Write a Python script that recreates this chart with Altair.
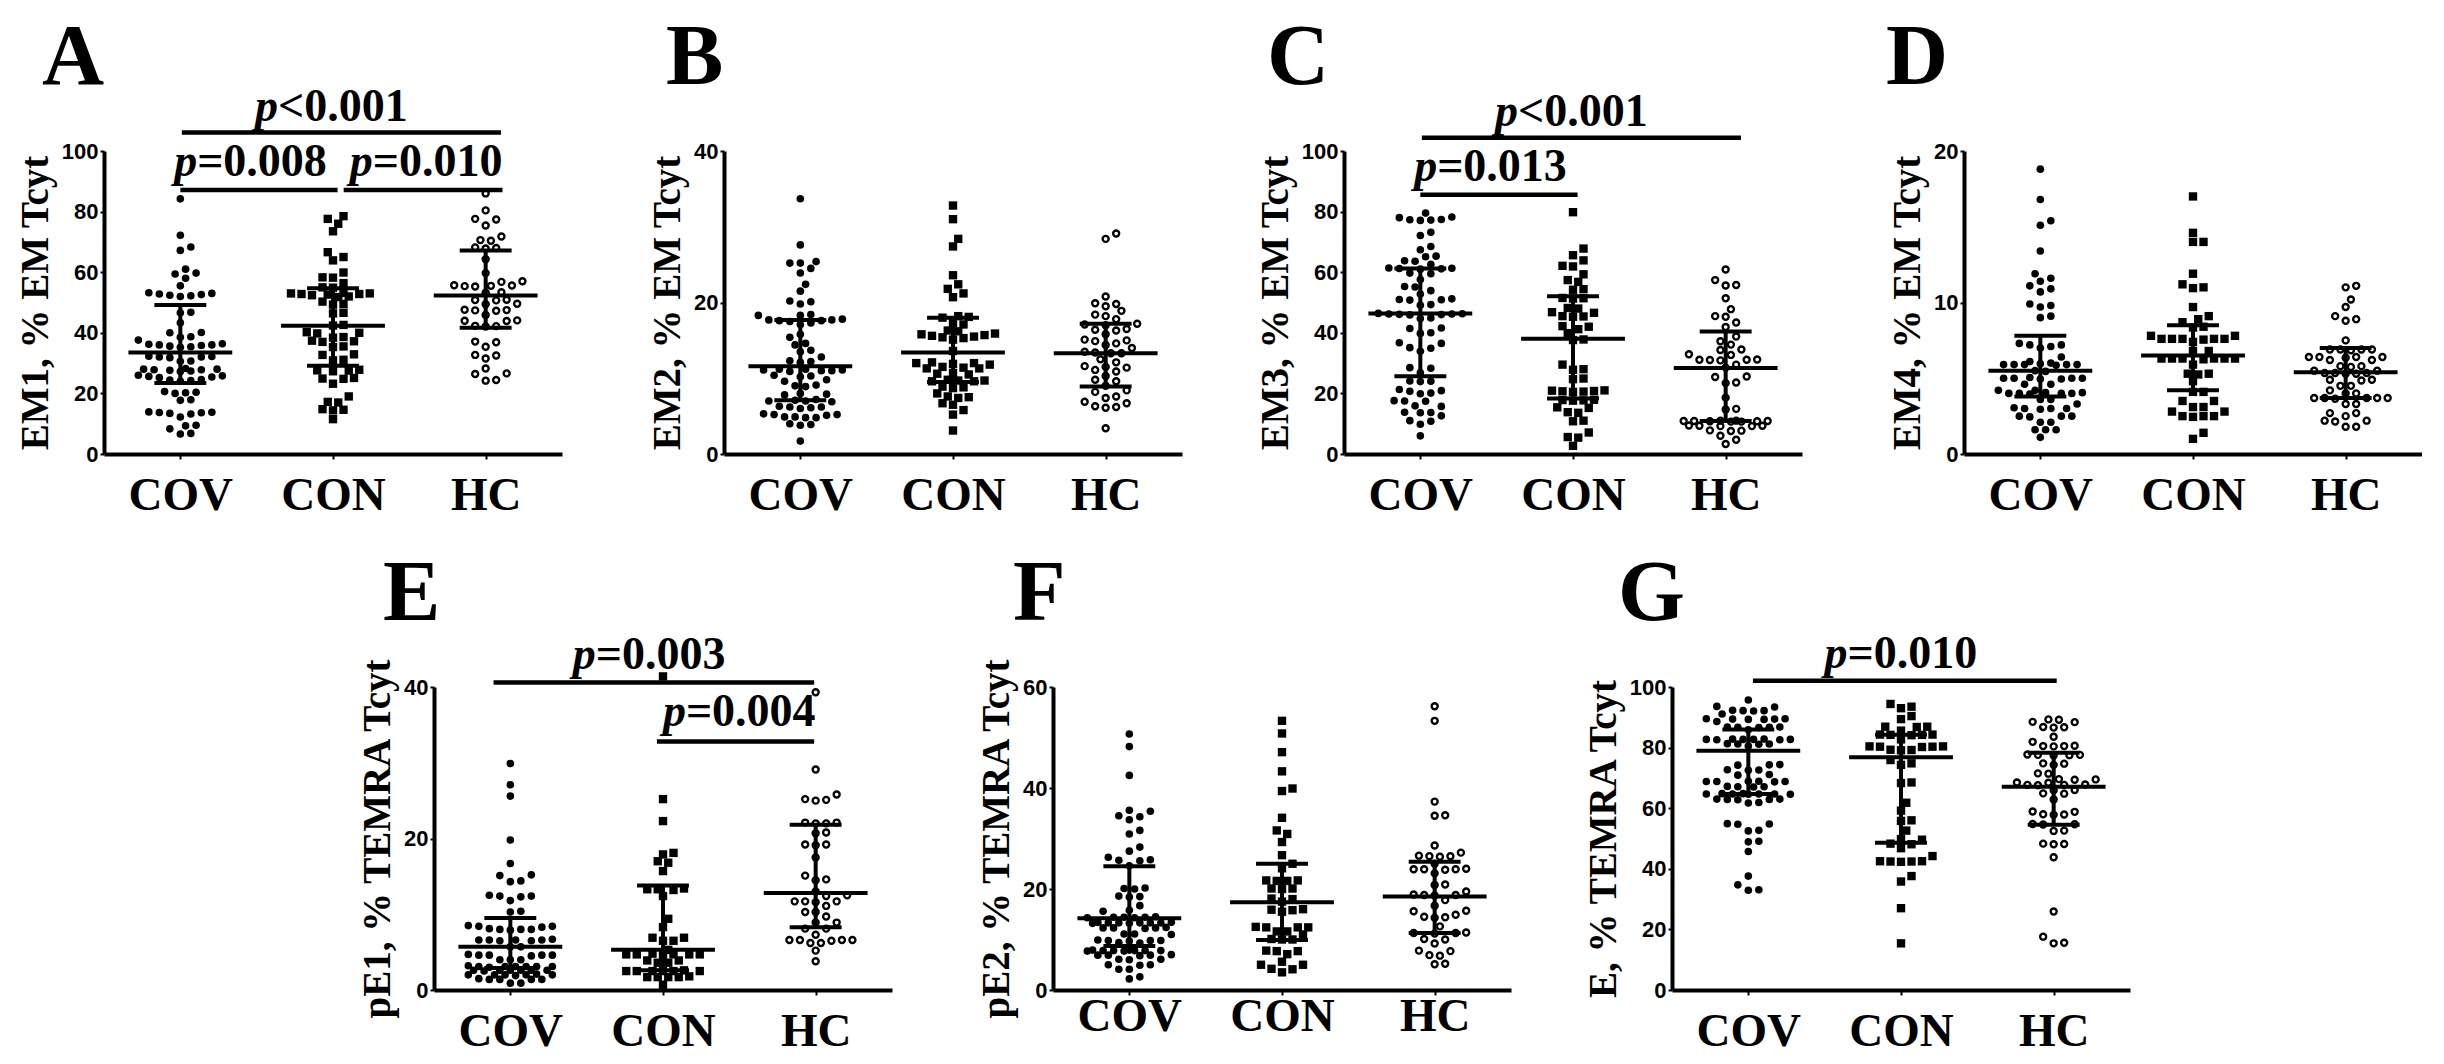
import altair as alt
import pandas as pd

GROUPS = ["COV", "CON", "HC"]
PLOT_W = 458
PLOT_H = 303

# ---------------- EM1 (% of EM Tcyt) ----------------
em1_cov = [84.2, 72.2, 68.3, 67.2, 61, 59.7, 59.4, 58, 55.5, 53.2, 53, 52.8, 52.6, 52.4, 52.2, 52,
           46.8, 46.6, 43.3, 40.1, 40, 38.7, 38.5, 37.6, 36.4, 36.2, 36, 36, 35.8, 35.6, 35.4, 35.2,
           32.3, 32.2, 32, 32, 31.8, 30.7, 30.6, 28.2, 28, 28, 27.8, 27.8, 27.6, 27.4, 27.2, 26, 25.8,
           25.6, 25.4, 25.2, 24.6, 24.4, 24.2, 24, 20.6, 20.4, 20.2, 20, 17.9, 17.7, 13.9, 13.8, 13.7,
           13.6, 13.4, 13.2, 12.2, 9.5, 9.3, 8.3, 6.8, 6.6]
em1_con = [78.5, 77.6, 76, 73.5, 66.6, 65, 63.9, 59.9, 58.3, 58.2, 56.4, 55, 54.9, 53.2, 53, 53, 52.8,
           52.8, 52.6, 52.4, 52, 51.8, 50.3, 49.5, 49.3, 46.6, 46.4, 42.6, 42.4, 40.2, 40, 39.8, 38.6,
           38.4, 37.4, 37.2, 37, 35.5, 35.3, 32.9, 32.7, 31.1, 30.9, 27.8, 27.6, 27.5, 27.3, 25.1, 24.9,
           24.8, 23.2, 19, 17.2, 17, 14.8, 14.6, 14.4, 11.5]
em1_hc = [86, 80.4, 77.6, 77.4, 75.4, 71.8, 70.6, 70.4, 68.2, 68, 67.8, 64.3, 59.7, 57, 56.8, 55.7, 55.6,
          55.5, 55.4, 55.3, 53.4, 53.2, 50.9, 50.8, 50.7, 49.6, 49.4, 47.6, 47.5, 47.4, 47.3, 45.9, 44.1,
          44, 43.9, 42.3, 42.2, 42.1, 37.1, 36.9, 35.4, 32.7, 32.5, 31.5, 28.2, 26.6, 26.4, 24.4, 24.2]
em1_median = [33.5, 42.3, 52.3]
em1_q1 = [23.4, 29.1, 41.7]
em1_q3 = [49.2, 54.7, 67.2]

# ---------------- EM2 ----------------
em2_cov = [33.7, 27.6, 25.4, 25.2, 25.2, 24.5, 23.9, 22.4, 21.5, 20.2, 20.1, 19.8, 18.4, 18.3, 18.3,
           17.8, 17.7, 17.7, 17.6, 17.6, 17.5, 17.3, 17.1, 15.8, 15.4, 14.6, 14.4, 13.7, 13.5, 12.8,
           12.3, 12.2, 12.1, 11.2, 11.2, 11.1, 11.1, 11, 11, 10.9, 10.4, 10.3, 10.2, 9.8, 9.6, 9.1, 9.0,
           8.9, 8.0, 7.9, 7.8, 7.2, 7.1, 7.0, 7.0, 6.9, 6.3, 6.2, 6.2, 6.1, 6.0, 5.3, 5.2, 5.2, 5.1,
           4.9, 4.9, 4.8, 4.8, 4.0, 3.9, 3.8, 1.7]
em2_con = [32.8, 31, 28.4, 27.4, 23.6, 22.4, 21.8, 21.2, 20.7, 18.2, 18.1, 18, 17.3, 17.1, 16.3, 16.2,
           15.9, 15.8, 15.7, 15.6, 15.5, 15.4, 15.3, 15.1, 13.6, 12.1, 12, 12, 11.9, 11.8, 11.5, 11.4,
           11.3, 11.3, 10.7, 10.6, 10.5, 9.8, 9.7, 9.7, 9.6, 9.6, 8.9, 8.8, 8.7, 8.0, 7.6, 7.5, 7.4,
           6.7, 6.5, 5.8, 5.2, 3.1]
em2_hc = [29.1, 28.4, 20.8, 19.9, 19.8, 19.5, 18.9, 18.4, 18.2, 17.8, 17.2, 17.1, 17.0, 16.5, 16.4,
          16.3, 15.8, 15.1, 15.0, 14.9, 14.6, 14.4, 14.0, 13.5, 13.4, 13.3, 13.3, 12.5, 12.1, 11.6,
          11.5, 11.4, 11.1, 10.9, 10.3, 9.8, 9.6, 9.0, 8.4, 8.2, 7.6, 7.4, 6.9, 6.7, 6.3, 6.2, 6.1, 3.4]
em2_median = [11.6, 13.4, 13.3]
em2_q1 = [7.1, 9.5, 8.9]
em2_q3 = [17.7, 18.0, 17.2]

# ---------------- EM3 ----------------
em3_cov = [79.5, 78.2, 78.0, 77.4, 77.3, 77.2, 77.1, 73.2, 72.1, 68.5, 67.4, 65.3, 65.1, 63.8, 63.6,
           62.6, 61.4, 61.3, 61.2, 61.1, 61.0, 59.7, 59.5, 57.6, 55.3, 55.1, 53.9, 52.8, 51.2, 51.0,
           50.9, 50.8, 49.3, 49.1, 46.4, 46.3, 46.2, 46.2, 46.1, 46.0, 45.9, 44.9, 44.7, 41.6, 41.4,
           40.0, 39.8, 36.7, 36.5, 35.1, 34.9, 33.9, 28.5, 28.3, 26.8, 24.1, 24.0, 23.9, 21.3, 20.9,
           20.7, 20.1, 19.9, 17.6, 17.5, 17.4, 15.9, 15.7, 13.8, 13.7, 13.6, 12.6, 11.0, 10.8, 9.8, 6.0]
em3_con = [79.8, 67.8, 65.6, 63.9, 62.1, 61.9, 59.3, 57.4, 56.8, 54.4, 54.2, 51.5, 51.4, 51.3, 48.2,
           48.0, 46.8, 46.6, 45.5, 45.4, 45.3, 42.2, 42.0, 41.2, 39.9, 37.8, 37.6, 29.5, 28.0, 27.8,
           24.9, 24.7, 21.0, 20.9, 20.8, 20.7, 20.6, 20.5, 17.9, 17.8, 17.7, 17.6, 15.4, 15.2, 13.8,
           13.6, 11.0, 10.8, 7.1, 5.6, 5.4, 2.7]
em3_hc = [60.9, 57.4, 55.8, 55.6, 51.4, 47.8, 45.5, 45.3, 43.4, 41.9, 38.8, 37.2, 36.1, 34.5, 34.3,
          32.9, 32.7, 31.2, 31.1, 31.0, 31.1, 30.9, 29.5, 28.5, 25.6, 25.4, 23.6, 23.4, 18.6, 14.9,
          14.7, 11.0, 11.0, 10.9, 10.9, 10.8, 10.8, 10.7, 10.7, 10.9, 9.4, 9.3, 9.3, 9.2, 9.2, 7.8,
          7.7, 7.6, 6.0, 4.7, 3.3]
em3_median = [46.4, 38.0, 28.4]
em3_q1 = [25.7, 18.3, 10.9]
em3_q3 = [61.2, 52.1, 40.4]

# ---------------- EM4 ----------------
em4_cov = [18.8, 16.8, 15.4, 15.1, 13.4, 11.9, 11.6, 11.4, 11.1, 10.9, 10.7, 9.9, 9.8, 9.7, 9.1, 9.0,
           7.3, 7.2, 7.2, 7.1, 7.0, 6.4, 6.1, 6.0, 5.95, 5.9, 5.9, 5.85, 5.9, 5.9, 5.9, 5.5, 5.45, 5.0,
           5.05, 4.95, 5.0, 5.0, 5.0, 4.95, 4.6, 4.6, 4.2, 4.2, 4.0, 4.05, 3.95, 4.0, 4.0, 4.0, 4.05,
           3.6, 3.6, 3.3, 3.0, 3.05, 2.95, 3.0, 3.0, 2.5, 2.5, 2.45, 2.5, 2.1, 2.1, 1.6, 1.6, 1.6, 1.1]
em4_con = [17.0, 14.6, 14.0, 14.0, 11.9, 11.2, 11.0, 10.95, 9.7, 9.1, 8.9, 8.7, 8.4, 8.35, 7.8, 7.8,
           7.6, 7.6, 7.6, 7.55, 7.6, 7.6, 7.4, 6.8, 6.8, 6.3, 6.3, 6.3, 6.25, 6.3, 6.3, 6.3, 5.9, 5.3,
           5.3, 5.25, 4.8, 4.1, 4.1, 3.5, 3.5, 3.1, 3.1, 2.8, 2.8, 2.5, 2.5, 2.45, 2.5, 1.4, 1.0]
em4_hc = [11.1, 11.0, 10.2, 9.7, 9.1, 8.9, 8.8, 7.5, 6.9, 6.9, 6.9, 6.85, 6.9, 6.4, 6.4, 6.4, 6.35,
          6.4, 6.2, 6.2, 5.8, 5.8, 5.75, 5.5, 5.5, 5.35, 5.35, 5.3, 5.35, 5.3, 4.9, 4.9, 4.85, 4.5,
          4.5, 4.2, 4.0, 4.0, 3.7, 3.7, 3.65, 3.7, 3.7, 3.7, 3.3, 3.3, 2.7, 2.7, 2.5, 2.2, 2.2, 2.15,
          1.8, 1.8]
em4_median = [5.5, 6.5, 5.4]
em4_q1 = [3.8, 4.2, 3.7]
em4_q3 = [7.8, 8.5, 7.0]

# ---------------- pE1 (% of TEMRA Tcyt) ----------------
pe1_cov = [29.9, 27.1, 25.6, 19.8, 16.7, 15.2, 15.1, 14.4, 14.3, 12.5, 12.4, 12.3, 12.4, 11.8, 10.4,
           10.3, 8.5, 8.4, 8.4, 8.3, 8.0, 8.0, 7.9, 8.1, 8.0, 6.6, 6.7, 6.6, 6.5, 6.6, 6.6, 6.5, 5.7,
           5.7, 4.6, 4.6, 4.7, 4.6, 4.5, 4.6, 4.0, 4.0, 4.0, 3.1, 3.1, 3.1, 3.0, 3.1, 3.2, 3.1, 3.1,
           2.6, 2.6, 2.6, 2.5, 2.6, 2.6, 2.6, 2.0, 2.0, 2.0, 2.0, 2.1, 2.0, 1.9, 1.4, 1.4, 1.4, 1.5,
           1.4, 0.9, 0.9]
pe1_con = [41.4, 25.2, 22.3, 18.1, 17.9, 17.0, 16.8, 15.7, 13.4, 13.3, 13.3, 13.2, 12.4, 9.4, 8.3,
           6.9, 6.9, 6.5, 6.5, 5.3, 4.8, 4.7, 4.7, 4.7, 4.6, 4.7, 4.7, 3.9, 3.9, 3.6, 3.6, 2.5, 2.5,
           2.5, 2.5, 2.6, 2.5, 2.5, 1.7, 1.7, 1.7, 1.7, 1.8, 0.7]
pe1_hc = [39.3, 29.1, 25.8, 25.1, 25.2, 25.0, 22.1, 22.0, 22.0, 22.1, 20.8, 20.7, 19.2, 19.2, 19.1,
          17.5, 15.1, 14.6, 14.5, 13.0, 12.5, 12.4, 11.7, 11.7, 11.6, 11.7, 11.1, 10.3, 10.3, 9.7,
          8.9, 8.9, 8.1, 8.1, 7.3, 6.6, 6.6, 6.6, 6.5, 6.6, 6.2, 6.2, 5.2, 3.8]
pe1_median = [5.7, 5.3, 12.8]
pe1_q1 = [2.9, 2.6, 8.3]
pe1_q3 = [9.5, 13.8, 21.8]

# ---------------- pE2 ----------------
pe2_cov = [50.7, 48.2, 42.5, 35.6, 35.4, 34.5, 34.3, 33.7, 31.6, 30.9, 28.3, 27.5, 26.3, 25.8, 25.7,
           25.6, 24.6, 20.2, 20.1, 20.0, 18.6, 18.5, 18.4, 16.7, 15.8, 15.6, 14.5, 14.4, 14.4, 14.3,
           14.4, 14.3, 13.3, 13.4, 13.3, 13.2, 13.3, 13.3, 13.4, 13.2, 13.3, 12.3, 12.3, 12.2, 12.3,
           12.4, 11.1, 11.1, 11.0, 9.8, 9.9, 9.8, 9.7, 9.8, 9.3, 9.4, 7.8, 7.8, 7.9, 7.7, 7.8, 7.8,
           7.9, 7.7, 7.8, 6.9, 6.9, 7.0, 6.8, 6.9, 6.1, 6.1, 6.0, 5.0, 5.0, 4.9, 4.1, 4.1, 2.6, 2.2]
pe2_con = [53.3, 50.8, 47.1, 43.3, 39.9, 39.4, 34.1, 31.6, 30.9, 29.3, 26.7, 25.0, 24.1, 21.7, 21.6,
           21.6, 21.7, 20.1, 20.1, 20.0, 18.0, 18.1, 17.5, 16.0, 15.9, 15.8, 15.5, 12.4, 12.5, 12.4,
           12.4, 11.6, 11.6, 11.0, 10.0, 10.0, 10.1, 7.7, 7.7, 7.8, 7.1, 5.6, 5.0, 5.0, 4.1, 4.2, 3.5]
pe2_hc = [56.2, 53.3, 37.3, 34.6, 34.5, 28.6, 27.2, 26.5, 26.6, 26.4, 26.5, 25.0, 23.9, 24.0, 23.9,
          23.8, 23.9, 23.1, 20.9, 20.8, 19.5, 18.8, 18.9, 18.7, 18.8, 17.8, 16.7, 15.7, 15.6, 14.9,
          14.4, 14.5, 14.3, 12.6, 11.3, 11.4, 11.2, 11.3, 10.1, 10.0, 9.2, 7.8, 7.7, 6.9, 6.8, 5.2, 5.1]
pe2_median = [14.2, 17.4, 18.5]
pe2_q1 = [8.7, 9.9, 11.3]
pe2_q3 = [24.5, 25.0, 25.4]

# ---------------- E ----------------
e_cov = [95.7, 93.6, 93.4, 92.3, 92.2, 92.1, 92.2, 91.1, 89.5, 89.4, 89.3, 89.4, 89.5, 89.3, 88.6,
         86.8, 86.7, 86.6, 86.7, 86.8, 85.9, 82.8, 82.7, 82.6, 82.7, 82.8, 82.7, 82.6, 82.7, 81.3,
         81.2, 81.1, 81.2, 80.5, 74.4, 74.3, 74.2, 72.7, 72.6, 72.5, 71.1, 70.9, 68.9, 68.8, 68.7,
         68.8, 68.9, 68.8, 67.2, 67.1, 67.0, 67.1, 64.8, 64.7, 64.6, 64.7, 64.8, 64.7, 64.6, 64.7,
         63.0, 62.9, 62.8, 62.9, 63.0, 61.9, 61.7, 54.9, 54.8, 54.7, 52.7, 52.5, 49.1, 48.9, 45.7,
         37.6, 34.7, 33.1, 32.9]
e_con = [94.4, 93.5, 93.0, 90.4, 89.4, 86.9, 86.8, 86.9, 85.6, 84.3, 84.2, 84.1, 84.2, 84.3, 82.7,
         80.4, 80.3, 80.2, 80.3, 80.4, 79.3, 79.2, 79.1, 75.9, 74.8, 74.3, 68.5, 68.3, 61.8, 59.2,
         56.0, 55.8, 52.6, 49.8, 49.6, 48.3, 48.1, 46.8, 44.2, 42.5, 42.4, 42.3, 42.4, 42.5, 37.6,
         35.8, 27.0, 15.4]
e_hc = [89.3, 89.2, 88.5, 88.4, 86.7, 86.6, 86.8, 83.6, 81.9, 80.5, 80.4, 80.6, 80.5, 77.6, 77.5,
        77.7, 77.6, 77.4, 74.8, 74.7, 74.3, 71.5, 71.4, 69.5, 69.4, 69.6, 68.5, 68.4, 67.7, 67.8,
        67.6, 67.7, 66.0, 65.9, 64.9, 64.8, 62.9, 58.9, 58.8, 57.9, 57.8, 58.0, 54.7, 54.6, 54.8,
        52.6, 52.5, 48.2, 48.1, 48.3, 43.8, 25.9, 17.6, 15.6, 15.4]
e_median = [79.0, 76.8, 67.1]
e_q1 = [64.7, 48.6, 54.5]
e_q3 = [86.0, 84.2, 78.3]

# Significance brackets: (x start, x end, y) and labels: (x of split, y, text after the italic p)
em1_brackets = [(0.51, 2.60, 106.1), (0.50, 1.53, 87.1), (1.57, 2.61, 87.1)]
em1_plabels = [(1.14, 110.0, "<0.001"), (0.61, 91.7, "=0.008"), (1.76, 91.7, "=0.010")]
em3_brackets = [(0.51, 2.60, 104.4), (0.50, 1.53, 85.6)]
em3_plabels = [(1.14, 108.2, "<0.001"), (0.61, 90.2, "=0.013")]
pe1_brackets = [(0.39, 2.49, 40.6), (1.46, 2.49, 32.8)]
pe1_plabels = [(1.06, 42.4, "=0.003"), (1.65, 34.8, "=0.004")]
e_brackets = [(0.53, 2.52, 102.1)]
e_plabels = [(1.15, 106.2, "=0.010")]

SERIF = "Liberation Serif"
SANS = "Liberation Sans"


def swarm_offsets(values, ymax, step_px=10.5, gap_px=8.6, max_steps=4):
    """Column-scatter layout: each point takes the nearest free slot
    (half-step positions allowed), otherwise the least crowded one."""
    px_per_y = PLOT_H / ymax
    px_per_x = PLOT_W / 3
    order = sorted(range(len(values)), key=lambda i: values[i])
    cands = [0.0]
    for k in range(1, 2 * max_steps + 1):
        cands += [k / 2, -k / 2]
    placed = []
    out = [0.0] * len(values)
    for i in order:
        py = values[i] * px_per_y
        chosen, best, best_d = None, 0.0, -1.0
        for c in cands:
            cx = c * step_px
            d = min((((cx - qx) ** 2 + (py - qy) ** 2) ** 0.5 for qx, qy in placed),
                    default=1e9)
            if d >= gap_px:
                chosen = c
                break
            if d > best_d + 1e-9:
                best, best_d = c, d
        if chosen is None:
            chosen = best
        placed.append((chosen * step_px, py))
        out[i] = chosen * step_px / px_per_x
    return out


def panel(letter, letter_dx, ytitle, ymax, yticks, groups, med, q1, q3,
          brackets=(), plabels=(), anchor=False, xlabel_pad=13):
    xscale = alt.Scale(domain=[0, 3], nice=False, zero=False)
    yscale = alt.Scale(domain=[0, ymax], nice=False, zero=True)
    label_expr = (f"datum.value < 1 ? '{GROUPS[0]}' : "
                  f"(datum.value < 2 ? '{GROUPS[1]}' : '{GROUPS[2]}')")
    xaxis = alt.Axis(values=[0.5, 1.5, 2.5], labelExpr=label_expr, title=None,
                     labelFlush=False, labelPadding=xlabel_pad)
    yaxis = alt.Axis(values=yticks, title=ytitle, labelFlush=False)

    def X(field):
        return alt.X(field, type="quantitative", scale=xscale, axis=xaxis)

    def Y(field):
        return alt.Y(field, type="quantitative", scale=yscale, axis=yaxis)

    layers = []
    styles = [
        dict(shape="circle", filled=True, size=58),
        dict(shape="square", filled=True, size=70),
        dict(shape="circle", filled=False, size=36, strokeWidth=2.4),
    ]
    for gi, vals in enumerate(groups):
        offs = swarm_offsets(vals, ymax)
        df = pd.DataFrame({"x": [gi + 0.5 + o for o in offs], "y": vals})
        layers.append(
            alt.Chart(df).mark_point(color="black", opacity=1, **styles[gi])
            .encode(x=X("x"), y=Y("y"))
        )

    centers = [0.5, 1.5, 2.5]
    summ = pd.DataFrame({
        "c": centers,
        "ml": [c - 0.34 for c in centers], "mr": [c + 0.34 for c in centers],
        "il": [c - 0.17 for c in centers], "ir": [c + 0.17 for c in centers],
        "med": med, "q1": q1, "q3": q3,
    })
    base = alt.Chart(summ)
    layers.append(base.mark_rule(color="black", strokeWidth=4)
                  .encode(x=X("ml"), x2="mr", y=Y("med")))
    layers.append(base.mark_rule(color="black", strokeWidth=4)
                  .encode(x=X("il"), x2="ir", y=Y("q1")))
    layers.append(base.mark_rule(color="black", strokeWidth=4)
                  .encode(x=X("il"), x2="ir", y=Y("q3")))
    layers.append(base.mark_rule(color="black", strokeWidth=4)
                  .encode(x=X("c"), y=Y("q1"), y2="q3"))

    if brackets:
        bdf = pd.DataFrame(brackets, columns=["x1", "x2", "y"])
        layers.append(alt.Chart(bdf).mark_rule(color="black", strokeWidth=4.5)
                      .encode(x=X("x1"), x2="x2", y=Y("y")))
    if plabels:
        pdf = pd.DataFrame(plabels, columns=["xb", "y", "t"])
        pdf["p"] = "p"
        layers.append(alt.Chart(pdf).mark_text(
            font=SERIF, fontSize=46, fontStyle="italic", fontWeight="bold",
            align="right", baseline="alphabetic", color="black")
            .encode(x=X("xb"), y=Y("y"), text="p:N"))
        layers.append(alt.Chart(pdf).mark_text(
            font=SERIF, fontSize=46, fontWeight="bold",
            align="left", baseline="alphabetic", color="black")
            .encode(x=X("xb"), y=Y("y"), text="t:N"))

    ldf = pd.DataFrame({"l": [letter]})
    layers.append(alt.Chart(ldf).mark_text(
        font=SERIF, fontSize=86, fontWeight="bold", align="left",
        baseline="alphabetic", color="black")
        .encode(x=alt.value(letter_dx), y=alt.value(-67), text="l:N"))

    if anchor:
        # fixes the top-left corner of the whole figure
        layers.append(alt.Chart(ldf).mark_rule(color="white", strokeWidth=1)
                      .encode(x=alt.value(-103), x2=alt.value(-102),
                              y=alt.value(-150), y2=alt.value(-150)))

    return alt.layer(*layers).properties(width=PLOT_W, height=PLOT_H)


pA = panel("A", -62, "EM1, % EM Tcyt", 100, [0, 20, 40, 60, 80, 100],
           [em1_cov, em1_con, em1_hc], em1_median, em1_q1, em1_q3,
           em1_brackets, em1_plabels, anchor=True)
pB = panel("B", -58, "EM2, % EM Tcyt", 40, [0, 20, 40],
           [em2_cov, em2_con, em2_hc], em2_median, em2_q1, em2_q3)
pC = panel("C", -77, "EM3, % EM Tcyt", 100, [0, 20, 40, 60, 80, 100],
           [em3_cov, em3_con, em3_hc], em3_median, em3_q1, em3_q3,
           em3_brackets, em3_plabels)
pD = panel("D", -78, "EM4, % EM Tcyt", 20, [0, 10, 20],
           [em4_cov, em4_con, em4_hc], em4_median, em4_q1, em4_q3)
pE = panel("E", -51, "pE1, % TEMRA Tcyt", 40, [0, 20, 40],
           [pe1_cov, pe1_con, pe1_hc], pe1_median, pe1_q1, pe1_q3,
           pe1_brackets, pe1_plabels)
pF = panel("F", -40, "pE2, % TEMRA Tcyt", 60, [0, 20, 40, 60],
           [pe2_cov, pe2_con, pe2_hc], pe2_median, pe2_q1, pe2_q3,
           xlabel_pad=-2)
pG = panel("G", -54, "E, % TEMRA Tcyt", 100, [0, 20, 40, 60, 80, 100],
           [e_cov, e_con, e_hc], e_median, e_q1, e_q3,
           e_brackets, e_plabels)

# empty placeholder that indents the second row
spacer = (alt.Chart(pd.DataFrame({"v": [0]})).mark_point(opacity=0)
          .encode(x=alt.value(0), y=alt.value(0))
          .properties(width=169, height=PLOT_H))

row1 = alt.hconcat(pA, pB, pC, pD, spacing=162, bounds="flush")
row2 = alt.hconcat(spacer, pE, pF, pG, spacing=161, bounds="flush")

# nested rows count as zero height under flush bounds, so the row
# spacing covers the first row's plot height plus the gap
chart = (
    alt.vconcat(row1, row2, spacing=PLOT_H + 233, bounds="flush")
    .properties(padding=0, background="white")
    .configure_view(stroke=None)
    .configure_axis(grid=False, domainColor="black", domainWidth=4, tickColor="black",
                    tickWidth=2, labelColor="black", titleColor="black")
    .configure_axisX(labelFont=SERIF, labelFontSize=47, labelFontWeight="bold",
                     tickSize=5)
    .configure_axisY(labelFont=SANS, labelFontSize=22, labelFontWeight="bold",
                     labelPadding=2, tickSize=4, titleFont=SERIF, titleFontSize=39,
                     titleFontWeight="bold", titlePadding=6)
)

chart.save("out.html", embed_options={"renderer": "svg", "actions": False})
